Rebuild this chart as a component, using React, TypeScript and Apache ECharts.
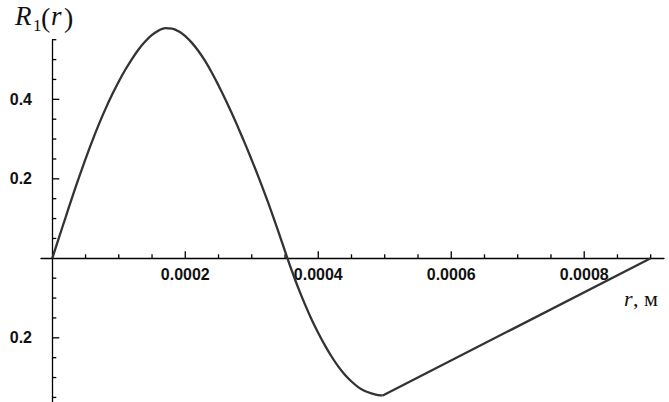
import React, { useEffect, useRef } from "react";
import * as echarts from "echarts";

// ---- data ----
const CURVE_R = [
  0, 0.00001, 0.00002, 0.00003, 0.00004, 0.00005, 0.00006, 0.00007, 0.00008, 0.00009,
  0.0001, 0.00011, 0.00012, 0.00013, 0.00014, 0.00015, 0.00016, 0.00017, 0.00018, 0.00019,
  0.0002, 0.00021, 0.00022, 0.00023, 0.00024, 0.00025, 0.00026, 0.00027, 0.00028, 0.00029,
  0.0003, 0.00031, 0.00032, 0.00033, 0.00034, 0.00035, 0.00036, 0.00037, 0.00038, 0.00039,
  0.0004, 0.00041, 0.00042, 0.00043, 0.00044, 0.00045, 0.00046, 0.00047, 0.00048, 0.00049,
  0.000497,
];
const CURVE_VAL = [
  0, 0.052, 0.103, 0.154, 0.203, 0.25, 0.295, 0.337, 0.376, 0.412,
  0.445, 0.475, 0.502, 0.526, 0.546, 0.562, 0.573, 0.579, 0.578, 0.571,
  0.559, 0.542, 0.521, 0.496, 0.467, 0.435, 0.401, 0.365, 0.327, 0.288,
  0.247, 0.205, 0.161, 0.115, 0.067, 0.018, -0.03, -0.075, -0.116, -0.154,
  -0.188, -0.219, -0.247, -0.272, -0.293, -0.31, -0.324, -0.334, -0.34, -0.344,
  -0.345,
];
const TAIL_R = [0.000497, 0.0009];
const TAIL_VAL = [-0.345, 0];

const X_MAJOR = [0.0002, 0.0004, 0.0006, 0.0008];
const X_MINOR = [
  0.00005, 0.0001, 0.00015, 0.00025, 0.0003, 0.00035, 0.00045, 0.0005, 0.00055,
  0.00065, 0.0007, 0.00075, 0.00085, 0.0009,
];
const Y_MAJOR = [-0.2, 0.2, 0.4];
const Y_MINOR = [-0.35, -0.3, -0.25, -0.15, -0.1, -0.05, 0.05, 0.1, 0.15, 0.25, 0.3, 0.35, 0.45, 0.5, 0.55];

const X_MIN = -0.000017;
const X_MAX = 0.00092;
const Y_MIN = -0.3615;
const Y_MAX = 0.55;

const MAJOR_LEN = 7;
const MINOR_LEN = 4;

const AXIS_COLOR = "#000";
const LINE_COLOR = "#333";
const LABEL_FONT = "'Liberation Sans', Arial, sans-serif";
const SERIF = "'Liberation Serif', 'Times New Roman', serif";

export default function App() {
  const ref = useRef<HTMLDivElement>(null);

  useEffect(() => {
    if (!ref.current) return;
    const chart = echarts.init(ref.current, undefined, { renderer: "svg" });

    const curve = CURVE_R.map((r, i) => [r, CURVE_VAL[i]]);
    const tail = TAIL_R.map((r, i) => [r, TAIL_VAL[i]]);

    const xTicks = [
      ...X_MAJOR.map((v) => [v, 0, MAJOR_LEN]),
      ...X_MINOR.map((v) => [v, 0, MINOR_LEN]),
    ];
    const yTicks = [
      ...Y_MAJOR.map((v) => [0, v, MAJOR_LEN]),
      ...Y_MINOR.map((v) => [0, v, MINOR_LEN]),
    ];

    const tickLine = { stroke: AXIS_COLOR, lineWidth: 1.3 };
    const labelStyle = {
      fontSize: 16,
      fontWeight: "bold" as const,
      color: "#111",
      fontFamily: LABEL_FONT,
    };

    const option: any = {
      animation: false,
      backgroundColor: "#fff",
      grid: {
        left: 41,
        top: 39.7,
        width: 623,
        height: 362.3,
        containLabel: false,
        outerBoundsMode: "none",
      },
      xAxis: {
        type: "value",
        min: X_MIN,
        max: X_MAX,
        axisLine: { show: true, onZero: true, lineStyle: { color: AXIS_COLOR, width: 1.3 } },
        axisTick: { show: false },
        axisLabel: { show: false },
        splitLine: { show: false },
      },
      yAxis: {
        type: "value",
        min: Y_MIN,
        max: Y_MAX,
        axisLine: { show: true, onZero: true, lineStyle: { color: AXIS_COLOR, width: 1.3 } },
        axisTick: { show: false },
        axisLabel: {
          show: true,
          customValues: Y_MAJOR,
          margin: 9,
          formatter: (v: number) => Math.abs(v).toFixed(1),
          ...labelStyle,
        },
        splitLine: { show: false },
      },
      series: [
        {
          type: "line",
          data: curve,
          showSymbol: false,
          smooth: 0.4,
          clip: false,
          lineStyle: { color: LINE_COLOR, width: 2.3 },
          itemStyle: { color: LINE_COLOR },
          z: 3,
        },
        {
          type: "line",
          data: tail,
          showSymbol: false,
          clip: false,
          lineStyle: { color: LINE_COLOR, width: 2.3 },
          itemStyle: { color: LINE_COLOR },
          z: 3,
        },
        {
          type: "custom",
          data: xTicks,
          clip: false,
          silent: true,
          renderItem: (_p: any, api: any) => {
            const pt = api.coord([api.value(0), api.value(1)]);
            const len = api.value(2);
            return {
              type: "line",
              shape: { x1: pt[0], y1: pt[1], x2: pt[0], y2: pt[1] - len },
              style: tickLine,
            };
          },
          z: 2,
        },
        {
          type: "custom",
          data: yTicks,
          clip: false,
          silent: true,
          renderItem: (_p: any, api: any) => {
            const pt = api.coord([api.value(0), api.value(1)]);
            const len = api.value(2);
            return {
              type: "line",
              shape: { x1: pt[0], y1: pt[1], x2: pt[0] + len, y2: pt[1] },
              style: tickLine,
            };
          },
          z: 2,
        },
        {
          // x tick labels, anchored on the x axis through the scale
          type: "custom",
          data: X_MAJOR.map((v) => [v, 0]),
          clip: false,
          silent: true,
          renderItem: (_p: any, api: any) => {
            const v = api.value(0);
            const pt = api.coord([v, api.value(1)]);
            return {
              type: "text",
              x: pt[0],
              y: pt[1] + 8,
              style: {
                text: Number(v).toFixed(4),
                fill: "#111",
                font: `bold 16px ${LABEL_FONT}`,
                align: "center",
                verticalAlign: "top",
              },
            };
          },
          z: 2,
        },
      ],
      graphic: [
        { type: "text", x: 15, y: 15.5, style: { text: "R", font: `italic 27px ${SERIF}`, fill: "#111", verticalAlign: "middle", align: "left" } },
        { type: "text", x: 33, y: 25, style: { text: "1", font: `17px ${SERIF}`, fill: "#111", verticalAlign: "middle", align: "left" } },
        { type: "text", x: 41, y: 17, style: { text: "(", font: `28px ${SERIF}`, fill: "#111", verticalAlign: "middle", align: "left" } },
        { type: "text", x: 51, y: 15.5, style: { text: "r", font: `italic 27px ${SERIF}`, fill: "#111", verticalAlign: "middle", align: "left" } },
        { type: "text", x: 64, y: 17, style: { text: ")", font: `28px ${SERIF}`, fill: "#111", verticalAlign: "middle", align: "left" } },
        { type: "text", x: 624, y: 298, style: { text: "r", font: `italic 22px ${SERIF}`, fill: "#111", verticalAlign: "middle", align: "left" } },
        { type: "text", x: 633, y: 298, style: { text: ", м", font: `22px ${SERIF}`, fill: "#111", verticalAlign: "middle", align: "left" } },
      ],
    };

    chart.setOption(option);
    return () => chart.dispose();
  }, []);

  return (
    <div
      ref={ref}
      style={{ position: "fixed", left: 0, top: 0, width: 669, height: 402, background: "#fff" }}
    />
  );
}
